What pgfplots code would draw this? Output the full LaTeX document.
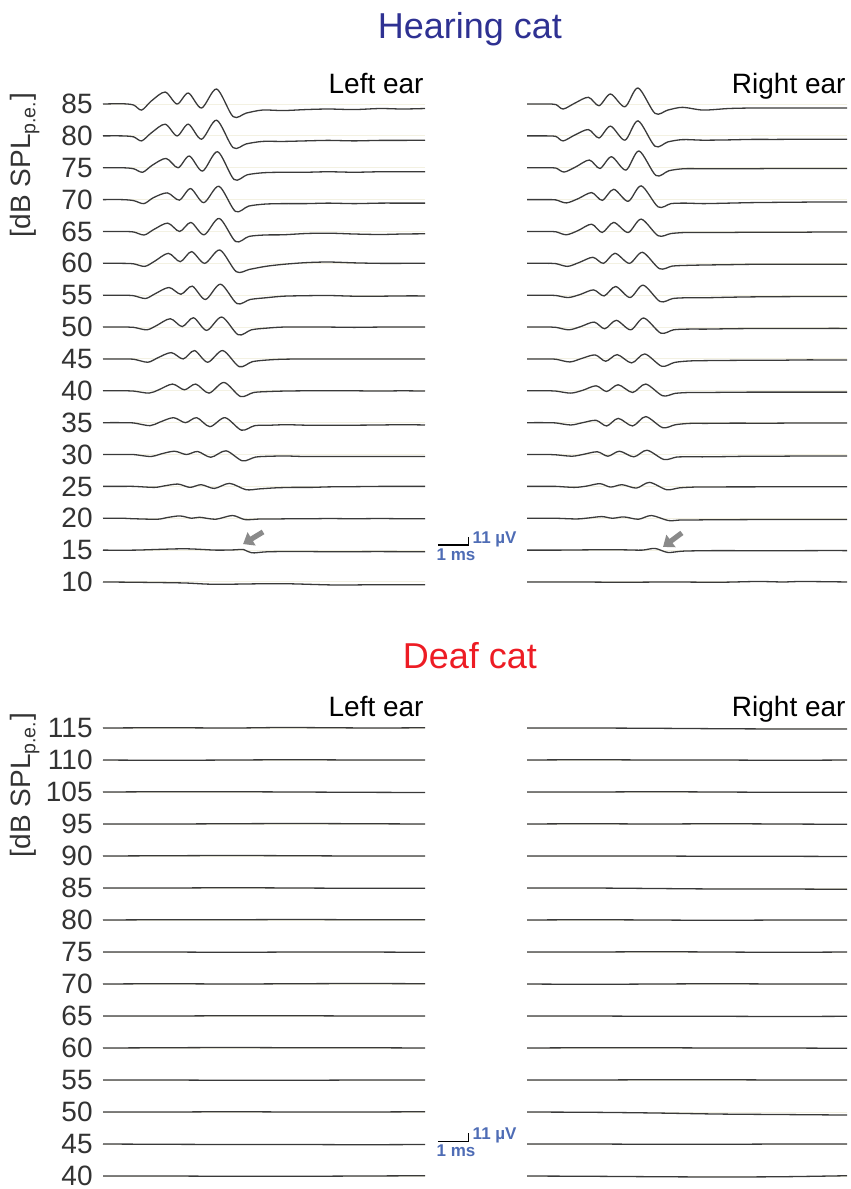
\documentclass[border=0pt]{standalone}
\usepackage{fontspec}
\setmainfont{Liberation Sans}
\usepackage{pgfplots}
\pgfplotsset{compat=1.18}
\usetikzlibrary{arrows.meta}
\definecolor{hear}{HTML}{2E3192}
\definecolor{deaf}{HTML}{ED1C24}
\definecolor{sbar}{HTML}{4E6CB5}
\definecolor{tracec}{HTML}{3A3A3A}
\definecolor{gridc}{HTML}{F3F1E2}
\definecolor{tickc}{HTML}{333333}
\definecolor{arrowc}{HTML}{8A8A8A}
\pgfplotsset{
  base/.style={scale only axis, xmin=0, xmax=10, axis line style={draw=none},
    major tick length=0pt, xtick=\empty, clip=false, anchor=south west,
    ymajorgrids, grid style={color=gridc, line width=0.5pt},
    yticklabel style={font=\fontsize{14}{16}\selectfont, text=tickc, inner sep=0pt, xshift=-5pt}},
  trace/.style={smooth, line width=0.65pt, color=tracec, mark=none},
}
\newcommand{\tr}[2]{\addplot[trace, y filter/.expression={#1+y*0.022}] coordinates {#2};}
\begin{document}
\begin{tikzpicture}
\useasboundingbox (0pt,0pt) rectangle (425.5pt,-594.5pt);

% ---------------- Hearing cat, left ear ----------------
\begin{axis}[base, at={(51.5pt,-298.95pt)}, width=161pt, height=254.9pt,
  ymin=-0.5, ymax=15.5, ytick={0,...,15},
  yticklabels={10,15,20,25,30,35,40,45,50,55,60,65,70,75,80,85}]
\tr{15}{(0,0) (0.6,0.4) (0.95,-1.4) (1.2,-8.6) (1.5,4.3) (1.93,17.1) (2.3,0) (2.65,15.7) (3.06,-5.7) (3.53,21.4) (4.04,-17.9) (4.45,-12.9) (4.95,-8.6) (5.6,-9.3) (6.3,-7.9) (7.0,-7.1) (7.8,-7.9) (8.6,-6.4) (9.3,-7.1) (10,-6.4)}
\tr{14}{(0,0) (0.6,0) (0.95,-1.4) (1.2,-7.1) (1.5,4.3) (1.93,16.7) (2.3,0) (2.65,16.7) (3.06,-4.7) (3.53,22.4) (4.04,-16.7) (4.45,-11.4) (4.95,-7.9) (5.6,-7.9) (6.3,-7.1) (7.0,-6.4) (7.8,-7.1) (8.6,-6.4) (9.3,-6.4) (10,-6.1)}
\tr{13}{(0,0) (0.6,0) (0.95,-1.4) (1.23,-6.4) (1.53,3.6) (1.96,13.3) (2.33,0) (2.68,16.7) (3.09,-4.7) (3.56,22.9) (4.07,-16.7) (4.48,-10) (4.98,-7.1) (5.6,-6.4) (6.3,-6.4) (7.0,-5.7) (7.8,-6.4) (8.6,-5.7) (9.3,-5.7) (10,-5.7)}
\tr{12}{(0,0) (0.6,0) (0.95,-1.4) (1.27,-5.7) (1.57,2.9) (2.0,9.6) (2.37,-0.7) (2.72,15.7) (3.13,-4.3) (3.6,19) (4.11,-16.7) (4.52,-9.3) (5.02,-6.4) (5.6,-5.7) (6.3,-5.7) (7.0,-5) (7.8,-5.7) (8.6,-5) (9.3,-5) (10,-5)}
\tr{11}{(0,0) (0.6,0) (0.95,-0.7) (1.28,-5) (1.58,2.9) (2.01,11.9) (2.38,0) (2.73,12.9) (3.14,-4.7) (3.61,18.6) (4.12,-14.3) (4.53,-7.1) (5.03,-5) (5.6,-4.7) (6.3,-2.9) (7.0,-2.4) (7.8,-3.6) (8.6,-4.3) (9.3,-3.6) (10,-3.3)}
\tr{10}{(0,0) (0.6,0) (0.95,-0.7) (1.3,-4.3) (1.6,2.9) (2.03,14.3) (2.4,2.4) (2.75,16.7) (3.16,0) (3.63,19) (4.14,-11.9) (4.55,-8.6) (5.05,-4.3) (5.6,-1.4) (6.3,1) (7.0,1.9) (7.8,0.7) (8.6,0) (9.3,0) (10,0)}
\tr{9}{(0,0) (0.6,0) (0.95,-0.7) (1.32,-4.7) (1.62,2.1) (2.05,11) (2.42,1.4) (2.77,12.9) (3.18,-6.1) (3.65,15.7) (4.16,-11.9) (4.57,-6.1) (5.07,-3.6) (5.6,-1.4) (6.3,-0.7) (7.0,-0.4) (7.8,-1.4) (8.6,-1.4) (9.3,-1) (10,-1)}
\tr{8}{(0,0) (0.6,0) (0.95,-0.4) (1.36,-3.9) (1.66,2.1) (2.09,11.9) (2.46,0.7) (2.81,13.3) (3.22,-4.7) (3.69,14.3) (4.2,-11) (4.61,-3.9) (5.11,-1.4) (5.6,0) (6.3,0) (7.0,0) (7.8,-0.4) (8.6,0) (9.3,0) (10,0)}
\tr{7}{(0,0) (0.6,0) (0.95,-0.4) (1.39,-4.7) (1.69,1.4) (2.12,9) (2.49,0) (2.84,11.9) (3.25,-4.7) (3.72,11.9) (4.23,-11) (4.64,-3.9) (5.14,-1.4) (5.6,-0.4) (6.3,0) (7.0,0) (7.8,0) (8.6,0) (9.3,0) (10,0)}
\tr{6}{(0,0) (0.6,0) (0.95,-0.4) (1.43,-3.3) (1.73,1.4) (2.16,9.6) (2.53,1.4) (2.88,9.6) (3.29,-3.3) (3.76,11.9) (4.27,-8.1) (4.68,-2.4) (5.18,-1) (5.6,-0.4) (6.3,0) (7.0,0) (7.8,0) (8.6,-0.4) (9.3,0) (10,-0.4)}
\tr{5}{(0,0) (0.6,0) (0.95,-0.4) (1.46,-4.3) (1.76,0.7) (2.19,7.1) (2.56,0) (2.91,7.1) (3.32,-5.7) (3.79,7.1) (4.3,-10.7) (4.71,-4.3) (5.21,-3.6) (5.7,-2.9) (6.3,-3.6) (7.0,-3.6) (7.8,-3.6) (8.6,-3.3) (9.3,-2.9) (10,-3.3)}
\tr{4}{(0,0) (0.6,0) (0.95,0) (1.49,-2.9) (1.79,0.7) (2.22,4.7) (2.59,0) (2.94,4.3) (3.35,-3.9) (3.82,5.3) (4.33,-9) (4.74,-3.6) (5.24,-2.4) (5.7,-2.1) (6.3,-2.9) (7.0,-2.9) (7.8,-2.9) (8.6,-2.9) (9.3,-2.9) (10,-2.9)}
\tr{3}{(0,0) (0.6,0) (0.95,0) (1.6,-1.4) (1.9,0.7) (2.33,3.3) (2.7,-1.4) (3.05,2.4) (3.46,-2.9) (3.93,4.3) (4.44,-4.7) (4.85,-3.6) (5.35,-2.1) (5.9,-1.4) (6.5,-1.4) (7.0,-0.7) (7.8,-0.4) (8.6,0) (9.3,0) (10,0)}
\tr{2}{(0,0) (0.6,0) (0.95,-0.7) (1.69,-1.4) (1.99,1) (2.39,3.3) (2.75,0) (3.0,1.4) (3.5,-1.4) (4.02,3.9) (4.41,-1.9) (4.9,-1) (5.4,-1) (5.9,-0.7) (6.5,-0.7) (7.0,-0.4) (7.8,-0.7) (8.6,-0.4) (9.3,-0.7) (10,-0.7)}
\tr{1}{(0,0) (1,0) (2.5,1.9) (3.5,0) (4.1,0.4) (4.35,1) (4.62,-3.9) (5.1,-2.4) (6,-1.9) (7.2,-2.4) (8.5,-2.1) (10,-2.4)}
\tr{0}{(0,0) (1,-0.4) (2.5,-1.4) (3.5,-3.3) (5.5,-2.4) (7.2,-4.3) (8.5,-3.9) (10,-3.9)}
% arrow
\draw[-{Triangle[length=5pt,width=7.5pt]}, line width=2.6pt, arrowc] (axis cs:4.97,1.57) -- (axis cs:4.35,1.19);
% scale bar
\draw[line width=0.6pt, black] (axis cs:10.4,1.16) -- (axis cs:11.35,1.16) -- (axis cs:11.35,1.402);
\node[anchor=west, text=sbar, font=\bfseries\fontsize{8.5}{10}\selectfont, inner sep=0pt] at (axis cs:11.47,1.33) {11 µV};
\node[anchor=north west, text=sbar, font=\bfseries\fontsize{8.5}{10}\selectfont, inner sep=0pt] at (axis cs:10.35,1.05) {1 ms};
\end{axis}

% ---------------- Hearing cat, right ear ----------------
\begin{axis}[base, at={(263.5pt,-298.95pt)}, width=160pt, height=254.9pt,
  ymin=-0.5, ymax=15.5, ytick={0,...,15}, yticklabels={,,,,,,,,,,,,,,,}]
\tr{15}{(0,0) (0.6,0) (0.9,-0.7) (1.13,-7.1) (1.5,1.4) (1.92,9.6) (2.25,-2.4) (2.61,14.3) (3.06,-3.9) (3.47,22.9) (4.0,-13.3) (4.4,-8.6) (4.86,-4.7) (5.5,-8.6) (6.3,-6.4) (7.0,-5.7) (7.8,-5.7) (8.6,-5.7) (9.3,-5.7) (10,-5.7)}
\tr{14}{(0,0) (0.6,0) (0.9,-0.7) (1.13,-7.1) (1.5,1.4) (1.92,9) (2.25,-2.9) (2.61,13.9) (3.06,-6.1) (3.47,21.4) (4.0,-14.7) (4.4,-8.6) (4.86,-5.3) (5.5,-6.1) (6.3,-5.7) (7.0,-5) (7.8,-5) (8.6,-4.7) (9.3,-4.7) (10,-4.7)}
\tr{13}{(0,0) (0.6,0) (0.9,-0.4) (1.16,-6.1) (1.53,1.4) (1.95,11) (2.28,-1) (2.64,15.7) (3.09,-3.3) (3.5,23.9) (4.03,-11) (4.43,-4.3) (4.89,-1.4) (5.5,-1.4) (6.3,-1.4) (7.0,-1.4) (7.8,-1) (8.6,-1) (9.3,-1) (10,-1)}
\tr{12}{(0,0) (0.6,0) (0.9,-0.4) (1.23,-4.7) (1.6,1.4) (2.02,10) (2.35,-1) (2.71,14.7) (3.16,-2.4) (3.57,19.6) (4.1,-10.4) (4.5,-5.7) (4.96,-5) (5.5,-5.7) (6.3,-5) (7.0,-4.3) (7.8,-3.9) (8.6,-3.6) (9.3,-3.3) (10,-3.3)}
\tr{11}{(0,0) (0.6,0) (0.9,-0.4) (1.23,-4.7) (1.6,1.4) (2.02,10.4) (2.35,-1.4) (2.71,12.9) (3.16,-1.4) (3.57,17.6) (4.1,-6.1) (4.5,-2.9) (4.96,-1.4) (5.5,-1.4) (6.3,-1.4) (7.0,-1) (7.8,-1) (8.6,-1) (9.3,-0.7) (10,-0.7)}
\tr{10}{(0,0) (0.6,0) (0.9,-0.4) (1.27,-4.3) (1.64,1.4) (2.06,8.6) (2.39,0) (2.75,14.3) (3.2,0) (3.61,15.7) (4.14,-7.6) (4.54,-3.9) (5.0,-2.9) (5.5,-2.4) (6.3,-1.9) (7.0,-1.4) (7.8,-1.4) (8.6,-1.4) (9.3,-1.4) (10,-1.4)}
\tr{9}{(0,0) (0.6,0) (0.9,-0.4) (1.29,-3.3) (1.66,1) (2.08,7.6) (2.41,-1) (2.77,12.4) (3.22,-3.3) (3.63,14.3) (4.16,-9) (4.56,-4.7) (5.02,-3.6) (5.6,-3.6) (6.3,-2.9) (7.0,-2.4) (7.8,-2.1) (8.6,-1.9) (9.3,-1.9) (10,-1.9)}
\tr{8}{(0,0) (0.6,0) (0.9,-0.4) (1.31,-3.9) (1.68,0.7) (2.1,7.1) (2.43,-2.4) (2.79,9.6) (3.24,-3.9) (3.65,12.9) (4.18,-8.6) (4.58,-3.9) (5.04,-2.9) (5.6,-2.9) (6.3,-2.4) (7.0,-2.1) (7.8,-2.1) (8.6,-2.1) (9.3,-1.9) (10,-1.9)}
\tr{7}{(0,0) (0.6,0) (0.9,-0.4) (1.34,-4.3) (1.71,0.7) (2.13,5.7) (2.46,-3.3) (2.82,6.1) (3.27,-5.7) (3.68,7.1) (4.21,-10.4) (4.61,-5) (5.07,-2.9) (5.6,-2.4) (6.3,-2.1) (7.0,-1.9) (7.8,-1.9) (8.6,-1.4) (9.3,-1.4) (10,-1.4)}
\tr{6}{(0,0) (0.6,0) (0.9,-0.4) (1.37,-3.3) (1.74,0.7) (2.16,7.1) (2.49,-1) (2.85,8.6) (3.3,-2.4) (3.71,9.6) (4.24,-7.1) (4.64,-3.6) (5.1,-2.4) (5.6,-2.4) (6.3,-2.1) (7.0,-1.9) (7.8,-1.9) (8.6,-1.9) (9.3,-1.9) (10,-1.9)}
\tr{5}{(0,0) (0.6,0) (0.9,-0.4) (1.37,-3.3) (1.74,0) (2.16,3.3) (2.49,-4.7) (2.85,6.1) (3.3,-4.7) (3.71,8.6) (4.24,-7.1) (4.64,-2.9) (5.1,-1) (5.6,-1) (6.3,-0.7) (7.0,-0.7) (7.8,-0.7) (8.6,-0.4) (9.3,-0.4) (10,-0.4)}
\tr{4}{(0,0) (0.6,0) (0.9,-0.4) (1.41,-2.4) (1.78,0.4) (2.2,3.9) (2.53,-2.4) (2.89,4.7) (3.34,-3.3) (3.75,6.1) (4.28,-7.1) (4.68,-3.6) (5.14,-3.3) (5.6,-3.3) (6.3,-2.9) (7.0,-2.4) (7.8,-2.4) (8.6,-2.1) (9.3,-2.1) (10,-2.1)}
\tr{3}{(0,0) (0.6,0) (0.9,0) (1.49,-1.4) (1.86,0.4) (2.28,3.9) (2.61,-1) (2.97,2.4) (3.42,-2.4) (3.83,5.7) (4.36,-4.7) (4.76,-2.1) (5.22,-1) (5.7,-1) (6.3,-0.7) (7.0,-0.7) (7.8,-0.4) (8.6,-0.4) (9.3,-0.4) (10,-0.4)}
\tr{2}{(0,0) (0.6,0) (0.9,0) (1.55,-1) (1.92,0.4) (2.34,2.4) (2.67,0) (3.03,1.9) (3.48,-1.4) (3.89,3.9) (4.42,-3.3) (4.82,-2.4) (5.28,-2.4) (5.8,-2.1) (6.3,-2.1) (7.0,-1.9) (7.8,-1.9) (8.6,-1.9) (9.3,-1.9) (10,-1.9)}
\tr{1}{(0,0) (1,0) (2,0.4) (3,0.4) (3.6,0) (4.0,2.4) (4.4,-3.3) (4.9,-1.4) (6,-0.7) (7.5,-1) (9,-0.7) (10,-0.7)}
\tr{0}{(0,0) (1.5,0) (3,-0.4) (4.5,0) (6,-0.4) (7.2,0.7) (8,0) (8.6,0.7) (10,0)}
\draw[-{Triangle[length=5pt,width=7.5pt]}, line width=2.6pt, arrowc] (axis cs:4.84,1.54) -- (axis cs:4.25,1.10);
\end{axis}

% ---------------- Deaf cat, left ear ----------------
\begin{axis}[base, at={(51.5pt,-596pt)}, width=161pt, height=240pt,
  ymin=-0.5, ymax=14.5, ytick={0,...,14},
  yticklabels={40,45,50,55,60,65,70,75,80,85,90,95,105,110,115}]
\tr{14}{(0,0) (2,0.4) (4,0) (5.5,0.7) (7,0.4) (8.5,0) (10,0.4)}
\tr{13}{(0,0) (2,-0.4) (4,0) (6,0.4) (8,0) (10,0)}
\tr{12}{(0,0) (2,0.4) (4,0.4) (6,0) (8,-0.4) (10,-0.7)}
\tr{11}{(0,0) (2,0) (4,0.4) (6,0.7) (8,0.4) (10,0)}
\tr{10}{(0,0) (2,0.4) (4,0.7) (6,0.4) (8,0) (10,0)}
\tr{9}{(0,0) (2,0) (4,0.4) (6,0) (8,-0.4) (10,-0.4)}
\tr{8}{(0,0) (2,0.4) (4,0.4) (6,0.7) (8,0.4) (10,0.4)}
\tr{7}{(0,0) (2,0) (4,-0.4) (6,0) (8,0) (10,-0.4)}
\tr{6}{(0,0) (2,0.4) (4,0) (6,0.4) (8,0.7) (10,0.4)}
\tr{5}{(0,0) (2,0) (4,0.4) (6,0.4) (8,0) (10,0)}
\tr{4}{(0,0) (2,0.4) (4,0.7) (6,0.4) (8,0.4) (10,0)}
\tr{3}{(0,0) (2,0) (4,-0.4) (6,-0.4) (8,0) (10,0)}
\tr{2}{(0,0) (2,0) (4,0.4) (6,0) (8,0) (10,0.4)}
\tr{1}{(0,0) (2,-0.4) (4,-0.7) (6,-0.7) (8,-1) (10,-0.7)}
\tr{0}{(0,0) (2,0) (4,-0.4) (6,-0.4) (8,0) (10,0.4)}
\draw[line width=0.6pt, black] (axis cs:10.4,1.09) -- (axis cs:11.35,1.09) -- (axis cs:11.35,1.33);
\node[anchor=west, text=sbar, font=\bfseries\fontsize{8.5}{10}\selectfont, inner sep=0pt] at (axis cs:11.47,1.27) {11 µV};
\node[anchor=north west, text=sbar, font=\bfseries\fontsize{8.5}{10}\selectfont, inner sep=0pt] at (axis cs:10.35,0.98) {1 ms};
\end{axis}

% ---------------- Deaf cat, right ear ----------------
\begin{axis}[base, at={(263.5pt,-596pt)}, width=160pt, height=240pt,
  ymin=-0.5, ymax=14.5, ytick={0,...,14}, yticklabels={,,,,,,,,,,,,,,}]
\tr{14}{(0,0) (2,0) (4,-0.4) (6,-1) (8,-1.4) (10,-1.4)}
\tr{13}{(0,0) (2,0.4) (4,0) (6,0) (8,-0.4) (10,0)}
\tr{12}{(0,0) (2,0) (4,0.4) (6,0) (8,-0.4) (10,-0.4)}
\tr{11}{(0,0) (2,0.4) (4,0) (6,0.4) (8,0) (10,-0.4)}
\tr{10}{(0,0) (2,0) (4,0) (6,-0.4) (8,-0.4) (10,-0.7)}
\tr{9}{(0,0) (2,0) (4,-0.7) (6,-1.4) (8,-1.4) (10,-1.9)}
\tr{8}{(0,0) (2,0.4) (4,0) (6,-0.4) (8,0) (10,0)}
\tr{7}{(0,0) (2,0) (4,0.4) (6,0) (8,-0.4) (10,0)}
\tr{6}{(0,0) (2,-0.4) (4,0) (6,0.4) (8,0) (10,0)}
\tr{5}{(0,0) (2,0) (4,-0.4) (6,-0.4) (8,-0.7) (10,-0.4)}
\tr{4}{(0,0) (2,0.4) (4,0.4) (6,0) (8,0) (10,-0.4)}
\tr{3}{(0,0) (2,0) (4,0.4) (6,0.4) (8,0) (10,0)}
\tr{2}{(0,0) (2,-0.4) (4,-1.4) (6,-2.9) (8,-3.6) (10,-4.3)}
\tr{1}{(0,0) (2,0) (4,-0.4) (6,-0.4) (8,0) (10,0)}
\tr{0}{(0,0) (2,-0.4) (4,-1) (6,-1.4) (8,-1) (10,0.4)}
\end{axis}

% ---------------- texts ----------------
\node[anchor=base, text=hear, font=\fontsize{18}{20}\selectfont, inner sep=0pt] at (235pt,-19pt) {Hearing cat};
\node[anchor=base, text=deaf, font=\fontsize{18}{20}\selectfont, inner sep=0pt] at (235pt,-334pt) {Deaf cat};
\node[anchor=base east, font=\fontsize{14}{16}\selectfont, inner sep=0pt] at (212pt,-46.5pt) {Left ear};
\node[anchor=base east, font=\fontsize{14}{16}\selectfont, inner sep=0pt] at (423pt,-46.5pt) {Right ear};
\node[anchor=base east, font=\fontsize{14}{16}\selectfont, inner sep=0pt] at (212pt,-358pt) {Left ear};
\node[anchor=base east, font=\fontsize{14}{16}\selectfont, inner sep=0pt] at (423pt,-358pt) {Right ear};
\node[rotate=90, text=tickc, font=\fontsize{14}{16}\selectfont, inner sep=0pt] at (12.5pt,-82.5pt) {[dB SPL\textsubscript{p.e.}]};
\node[rotate=90, text=tickc, font=\fontsize{14}{16}\selectfont, inner sep=0pt] at (12.5pt,-392.5pt) {[dB SPL\textsubscript{p.e.}]};
\end{tikzpicture}
\end{document}
